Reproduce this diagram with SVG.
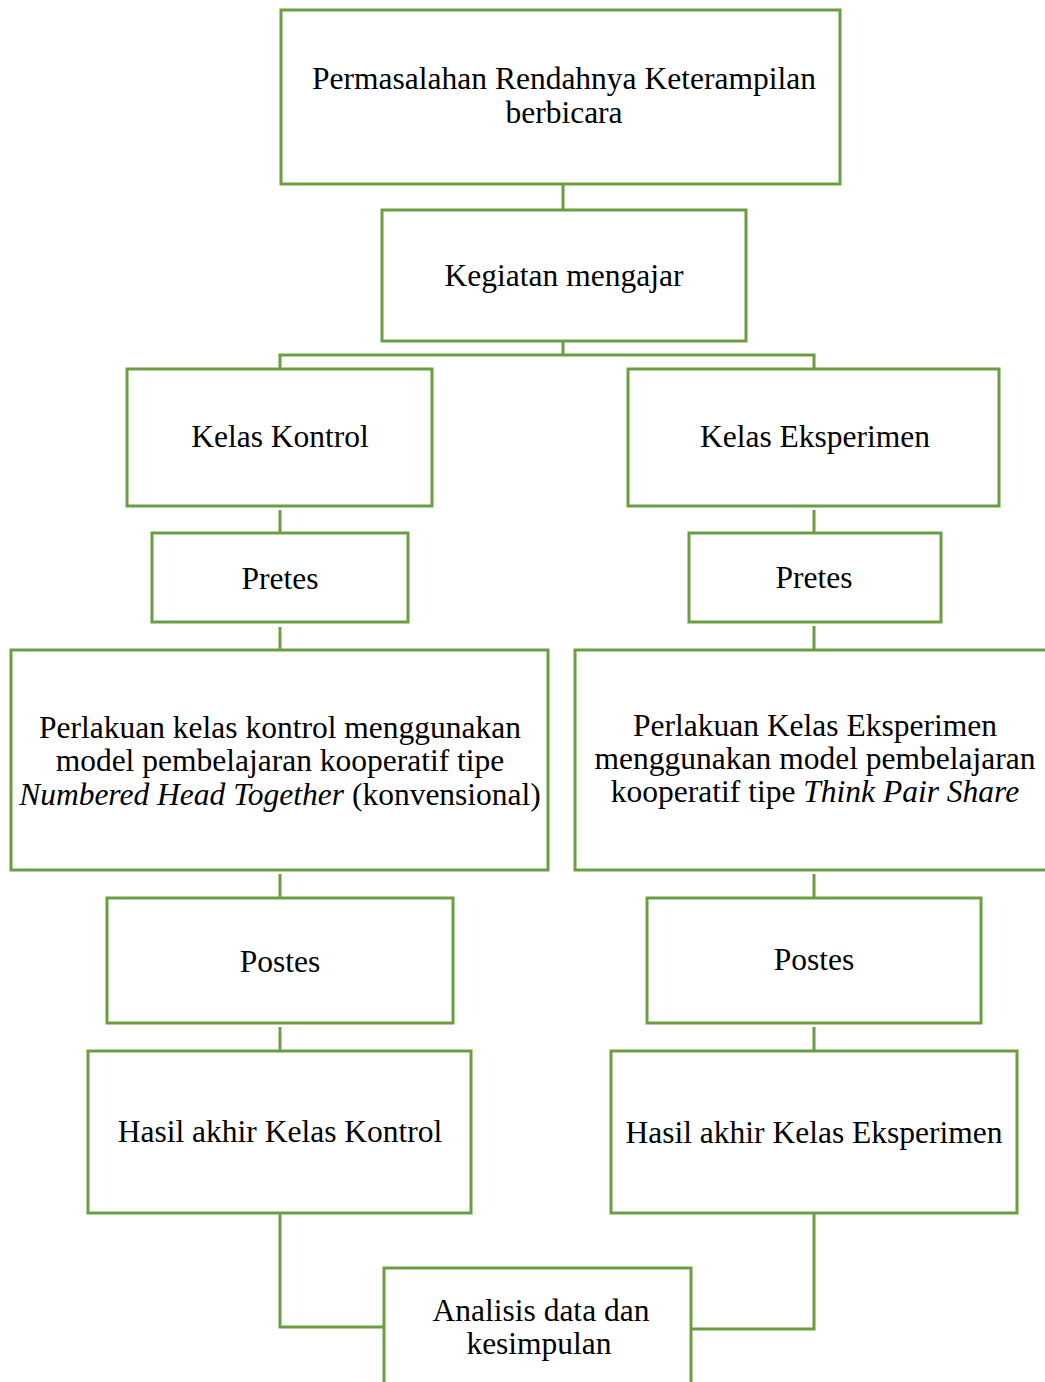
<svg xmlns="http://www.w3.org/2000/svg" width="1045" height="1382" viewBox="0 0 1045 1382">
<style>
.box{fill:#fff;stroke:#6A9E40;stroke-width:3}
.con{fill:none;stroke:#6A9E40;stroke-width:3}
text{font-family:"Liberation Serif","Times New Roman",serif;font-size:31.5px;fill:#000;text-anchor:middle}
.i{font-style:italic}
</style>
<rect width="1045" height="1382" fill="#fff"/>
<g id="connectors">
<path class="con" d="M563,184 V210"/>
<path class="con" d="M563,341 V355 M280,369 V355 H814 V369"/>
<path class="con" d="M280,510 V537"/>
<path class="con" d="M814,510 V533"/>
<path class="con" d="M280,627 V655"/>
<path class="con" d="M814,626 V650"/>
<path class="con" d="M280,874 V902"/>
<path class="con" d="M814,874 V898"/>
<path class="con" d="M280,1027 V1055"/>
<path class="con" d="M814,1027 V1051"/>
<path class="con" d="M280,1213 V1327 H384"/>
<path class="con" d="M814,1213 V1329 H691"/>
</g>
<g id="n1"><rect class="box" x="281" y="10" width="559" height="174"/><text x="564" y="89">Permasalahan Rendahnya Keterampilan</text><text x="564" y="123">berbicara</text></g>
<g id="n2"><rect class="box" x="382" y="210" width="364" height="131"/><text x="564" y="286">Kegiatan mengajar</text></g>
<g id="n3"><rect class="box" x="127" y="369" width="305" height="137"/><text x="280" y="447">Kelas Kontrol</text></g>
<g id="n4"><rect class="box" x="628" y="369" width="371" height="137"/><text x="815" y="447">Kelas Eksperimen</text></g>
<g id="n5"><rect class="box" x="152" y="533" width="256" height="89"/><text x="280" y="589">Pretes</text></g>
<g id="n6"><rect class="box" x="689" y="533" width="252" height="89"/><text x="814" y="588">Pretes</text></g>
<g id="n7"><rect class="box" x="11" y="650" width="537" height="220"/><text x="280" y="738">Perlakuan kelas kontrol menggunakan</text><text x="280" y="771">model pembelajaran kooperatif tipe</text><text x="280" y="805"><tspan class="i">Numbered Head Together</tspan> (konvensional)</text></g>
<g id="n8"><rect class="box" x="575" y="650" width="480" height="220"/><text x="815" y="736">Perlakuan Kelas Eksperimen</text><text x="815" y="769">menggunakan model pembelajaran</text><text x="815" y="802">kooperatif tipe <tspan class="i">Think Pair Share</tspan></text></g>
<g id="n9"><rect class="box" x="107" y="898" width="346" height="125"/><text x="280" y="972">Postes</text></g>
<g id="n10"><rect class="box" x="647" y="898" width="334" height="125"/><text x="814" y="970">Postes</text></g>
<g id="n11"><rect class="box" x="88" y="1051" width="383" height="162"/><text x="280" y="1142">Hasil akhir Kelas Kontrol</text></g>
<g id="n12"><rect class="box" x="611" y="1051" width="406" height="162"/><text x="814" y="1143">Hasil akhir Kelas Eksperimen</text></g>
<g id="n13"><rect class="box" x="384" y="1268" width="307" height="130"/><text x="541" y="1321">Analisis data dan</text><text x="539" y="1354">kesimpulan</text></g>
</svg>
